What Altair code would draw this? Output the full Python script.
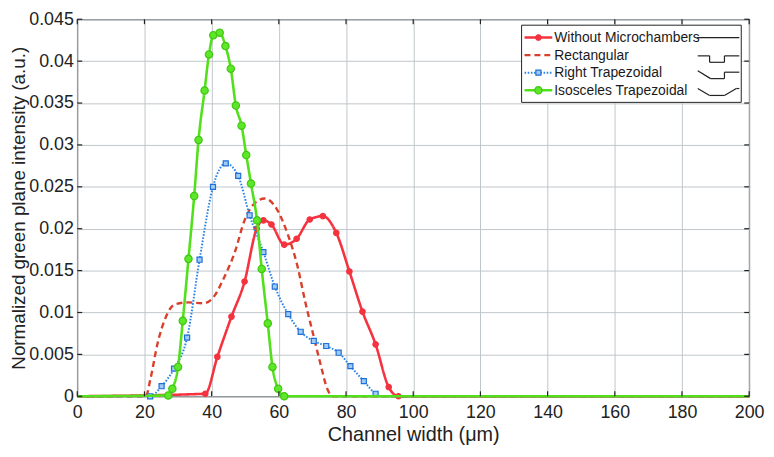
import altair as alt
import pandas as pd

X_TICKS = [0, 20, 40, 60, 80, 100, 120, 140, 160, 180, 200]
Y_TICKS = [0, 0.005, 0.01, 0.015, 0.02, 0.025, 0.03, 0.035, 0.04, 0.045]

SERIES = ["Without Microchambers", "Rectangular", "Right Trapezoidal", "Isosceles Trapezoidal"]

# Without Microchambers (solid red, circle markers)
RED_X = [38.1, 41.7, 45.9, 49.8, 53.4, 55.4, 57.8, 61.6, 65.3, 69.2, 73.1, 77.1, 81.0, 84.9, 88.8, 92.7, 95.6]
RED_Y = [0.0003, 0.0047, 0.0095, 0.0137, 0.0200, 0.0210, 0.0205, 0.0181, 0.0188, 0.0211, 0.0215, 0.0195,
         0.0149, 0.0101, 0.0062, 0.0011, 0.0]

# Rectangular (dashed, no markers)
RECT_X = [20.4, 21.8, 23.9, 26.3, 29.2, 33.1, 37.6, 40.5, 43.5, 46.9, 49.8, 52.7, 55.8, 59.3, 62.5, 65.5,
          67.9, 70.4, 72.3, 74.5, 76.0]
RECT_Y = [0.0, 0.0021, 0.0063, 0.0094, 0.0110, 0.0112, 0.0111, 0.0118, 0.0140, 0.0172, 0.0210, 0.0230,
          0.0236, 0.0224, 0.0195, 0.0156, 0.0112, 0.0071, 0.0040, 0.0008, 0.0]

# Right Trapezoidal (dotted blue, square markers)
BLUE_X = [21.7, 25.1, 28.8, 32.7, 36.4, 40.4, 44.2, 47.9, 51.3, 55.4, 58.8, 62.8, 66.5, 70.4, 74.1, 77.8,
          81.3, 85.3, 88.8]
BLUE_Y = [0.0, 0.0012, 0.0033, 0.0070, 0.0163, 0.0250, 0.0278, 0.0263, 0.0216, 0.0172, 0.0131, 0.0098,
          0.0077, 0.0066, 0.0060, 0.0052, 0.0036, 0.0018, 0.0003]

# Isosceles Trapezoidal (solid green, circle markers)
GREEN_X = [27.1, 28.3, 30.0, 31.4, 33.1, 34.8, 36.1, 37.9, 39.2, 40.5, 42.4, 44.1, 45.7, 47.2, 48.9, 50.3,
           51.7, 53.5, 54.9, 56.7, 58.1, 59.8, 61.6]
GREEN_Y = [0.0001, 0.0009, 0.0035, 0.0090, 0.0164, 0.0239, 0.0306, 0.0365, 0.0408, 0.0431, 0.0434, 0.0418,
           0.0391, 0.0347, 0.0323, 0.0288, 0.0254, 0.0210, 0.0152, 0.0087, 0.0035, 0.0009, 0.0]

# zero-level stretches of each line (no markers)
RED_LEAD, RED_TAIL = [0], [200]
RECT_LEAD, RECT_TAIL = [0], [200]
BLUE_LEAD, BLUE_TAIL = [0, 20.4], [90.1, 200]
GREEN_LEAD, GREEN_TAIL = [0], [200]

rows = []
def add(name, xs, ys, marker, lead, tail):
    i = 0
    for v in lead:
        rows.append({"s": name, "x": v, "y": 0.0, "m": False, "i": i}); i += 1
    for a, b in zip(xs, ys):
        rows.append({"s": name, "x": a, "y": b, "m": marker, "i": i}); i += 1
    for v in tail:
        rows.append({"s": name, "x": v, "y": 0.0, "m": False, "i": i}); i += 1

add(SERIES[0], RED_X, RED_Y, True, RED_LEAD, RED_TAIL)
add(SERIES[1], RECT_X, RECT_Y, False, RECT_LEAD, RECT_TAIL)
add(SERIES[2], BLUE_X, BLUE_Y, True, BLUE_LEAD, BLUE_TAIL)
add(SERIES[3], GREEN_X, GREEN_Y, True, GREEN_LEAD, GREEN_TAIL)
df = pd.DataFrame(rows)

FONT = "Liberation Sans"
W, H = 679, 381

STYLE = {
    SERIES[0]: dict(color="#f5323f", width=2.6, dash=[1, 0], shape="circle", size=30, fill="#f5323f", stroke="#f5323f"),
    SERIES[1]: dict(color="#d9402c", width=2.4, dash=[6, 4], shape=None),
    SERIES[2]: dict(color="#2a84e6", width=2.0, dash=[1.6, 1.6], shape="square", size=26, fill="#9fcbf5", stroke="#1e6fd6"),
    SERIES[3]: dict(color="#52e01c", width=2.6, dash=[1, 0], shape="circle", size=55, fill="#5ee62a", stroke="#3fc712"),
}

xenc = alt.X("x:Q", scale=alt.Scale(domain=[0, 200], nice=False, zero=False),
             axis=alt.Axis(values=X_TICKS, labelPadding=7, titlePadding=4, labelFlush=False, labelOverlap=False),
             title="Channel width (μm)")
yenc = alt.Y("y:Q", scale=alt.Scale(domain=[0, 0.045], nice=False),
             axis=alt.Axis(values=Y_TICKS, format="~g", labelPadding=4, titlePadding=0, labelFlush=False,
                           labelOverlap=False, titleFontSize=19),
             title="Normalized green plane intensity (a.u.)")

layers = []
for name in SERIES:
    st = STYLE[name]
    sub = df[df.s == name]
    layers.append(alt.Chart(sub).mark_line(interpolate="monotone", color=st["color"], strokeWidth=st["width"],
                                           strokeDash=st["dash"]).encode(x=xenc, y=yenc, order="i:Q"))
    if st["shape"]:
        layers.append(alt.Chart(sub[sub.m]).mark_point(shape=st["shape"], size=st["size"], filled=True,
                                                        fill=st["fill"], stroke=st["stroke"], strokeWidth=1.2,
                                                        opacity=1).encode(x=xenc, y=yenc))

# inner ticks on all four sides (MATLAB style)
xt = pd.DataFrame({"x": X_TICKS})
yt = pd.DataFrame({"y": Y_TICKS})
TICK = dict(color="#222", strokeWidth=1.2)
layers.append(alt.Chart(xt).mark_rule(**TICK).encode(x=xenc, y=alt.value(H), y2=alt.value(H - 5)))
layers.append(alt.Chart(xt).mark_rule(**TICK).encode(x=xenc, y=alt.value(0), y2=alt.value(5)))
layers.append(alt.Chart(yt).mark_rule(**TICK).encode(y=yenc, x=alt.value(0), x2=alt.value(5)))
layers.append(alt.Chart(yt).mark_rule(**TICK).encode(y=yenc, x=alt.value(W - 5), x2=alt.value(W)))

# legend
one = pd.DataFrame({"a": [0]})
layers.append(alt.Chart(one).mark_rect(fill="white", stroke="#222", strokeWidth=1).encode(
    x=alt.value(449), x2=alt.value(671), y=alt.value(6), y2=alt.value(84)))
ROW_Y = [18.5, 36.2, 54.0, 71.8]
for name, ly in zip(SERIES, ROW_Y):
    st = STYLE[name]
    layers.append(alt.Chart(one).mark_rule(color=st["color"], strokeWidth=st["width"], strokeDash=st["dash"]).encode(
        x=alt.value(452), x2=alt.value(480), y=alt.value(ly)))
    if st["shape"]:
        layers.append(alt.Chart(one).mark_point(shape=st["shape"], size=st["size"], filled=True, fill=st["fill"],
                                                stroke=st["stroke"], strokeWidth=1.2, opacity=1).encode(
            x=alt.value(466), y=alt.value(ly)))
    layers.append(alt.Chart(one).mark_text(align="left", baseline="middle", font=FONT, fontSize=14,
                                           color="#1a1a1a").encode(
        x=alt.value(482), y=alt.value(ly + 0.5), text=alt.value(name)))

# channel-shape icons in the legend
ICONS = [
    [(626, 18.5), (669, 18.5)],
    [(627, 37.0), (639, 37.0), (639, 43.5), (654, 43.5), (654, 37.0), (669, 37.0)],
    [(627, 52.0), (640, 60.0), (654, 60.0), (654, 53.5), (669, 53.5)],
    [(627, 70.0), (639, 77.0), (654, 77.0), (666, 70.0), (669, 70.0)],
]
for pts in ICONS:
    for (x1, y1), (x2, y2) in zip(pts[:-1], pts[1:]):
        layers.append(alt.Chart(one).mark_rule(color="#222", strokeWidth=1.2).encode(
            x=alt.value(x1), x2=alt.value(x2), y=alt.value(y1), y2=alt.value(y2)))

chart = alt.layer(*layers).properties(
    width=W, height=H,
    autosize=alt.AutoSizeParams(type="none"),
    padding={"left": 70, "top": 9, "right": 17, "bottom": 59},
).configure_view(stroke="#222", strokeWidth=1.2).configure_axis(
    labelFont=FONT, labelFontSize=18, labelColor="#222222",
    titleFont=FONT, titleFontSize=20, titleFontWeight="normal", titleColor="#222222",
    grid=True, gridColor="#bfc6ca", gridWidth=1, gridOpacity=1, domain=False, ticks=False,
)

chart.save("out.html", embed_options={"renderer": "svg", "actions": False})
